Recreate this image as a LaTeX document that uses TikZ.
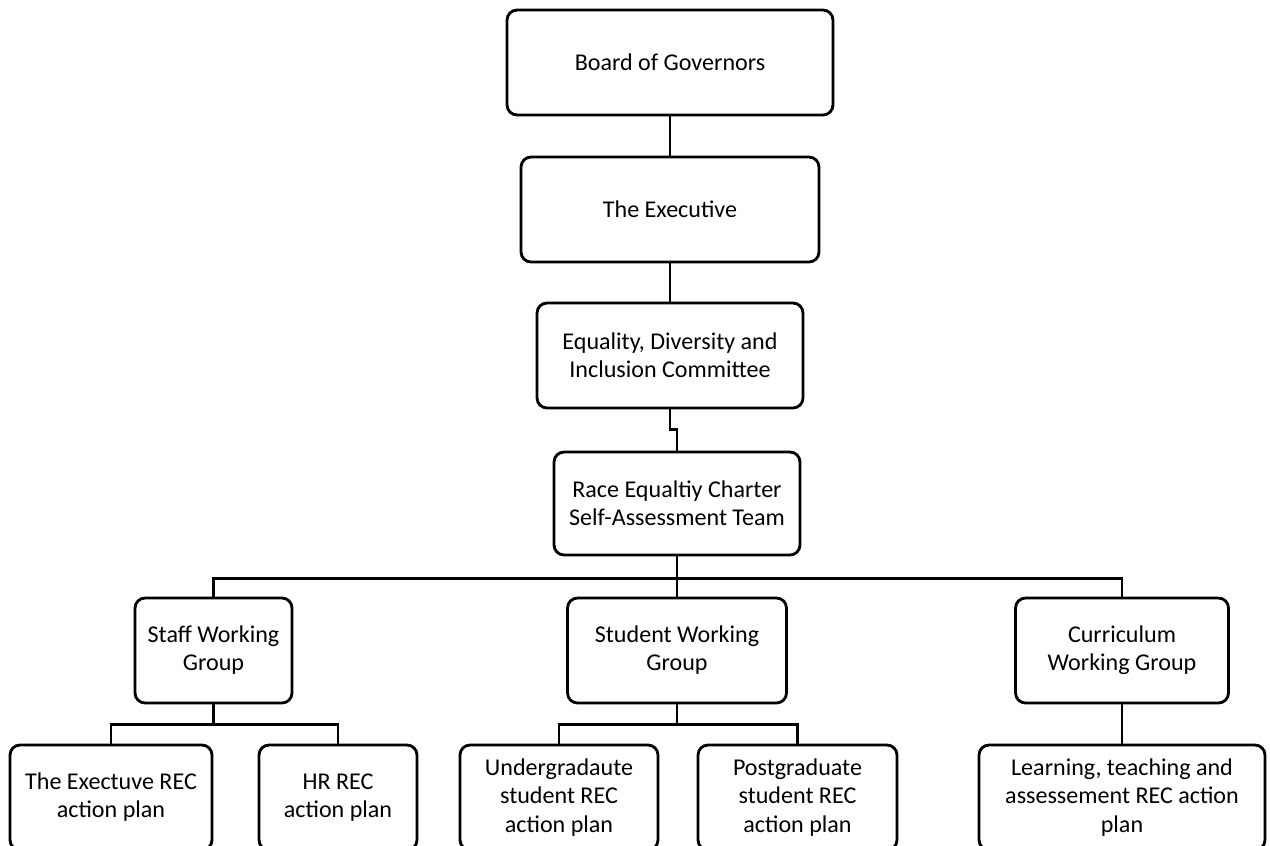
\documentclass[tikz,border=0pt]{standalone}
\usepackage{fontspec}
\setmainfont{Carlito}
\usepackage{tikz}
\usetikzlibrary{positioning,calc}

\begin{document}
\begin{tikzpicture}[
  x=0.02cm, y=-0.02cm,
  font=\fontsize{13.7pt}{16pt}\selectfont,
  box/.style={draw, line width=1.6pt, rounded corners=0.2cm, align=center,
    minimum height=2.1cm, inner sep=2pt},
  link/.style={line width=1.6pt}
]

  \useasboundingbox (0,0) rectangle (1270,845);

  % Top chain
  \node (board) at (670,62.5) [box, minimum width=6.52cm] {Board of Governors};
  \node (exec) at (670,209.5) [box, minimum width=5.96cm] {The Executive};
  \node (edi) at (670,355.5) [box, minimum width=5.32cm] {Equality, Diversity and\\Inclusion Committee};
  \node (rec) at (677,503.5) [box, minimum width=4.92cm, minimum height=2.06cm] {Race Equaltiy Charter\\Self-Assessment Team};

  % Working groups
  \node (staff) at (213.5,650.5) [box, minimum width=3.14cm] {Staff Working\\Group};
  \node (student) at (677,650.5) [box, minimum width=4.38cm] {Student Working\\Group};
  \node (curric) at (1122,650.5) [box, minimum width=4.26cm] {Curriculum\\Working Group};

  % Action plans
  \node (execplan) at (111,797.5) [box, minimum width=4.04cm] {The Exectuve REC\\action plan};
  \node (hrplan) at (338,797.5) [box, minimum width=3.16cm] {HR REC\\action plan};
  \node (ugplan) at (559,797.5) [box, minimum width=3.96cm] {Undergradaute\\student REC\\action plan};
  \node (pgplan) at (797.5,797.5) [box, minimum width=3.98cm] {Postgraduate\\student REC\\action plan};
  \node (ltaplan) at (1122,797.5) [box, minimum width=5.72cm] {Learning, teaching and\\assessement REC action\\plan};

  % Connectors
  \draw [link] (board.south) -- (exec.north);
  \draw [link] (exec.south) -- (edi.north);
  \draw [link] (edi.south) -- ++(0,20) -| (rec.north);

  \draw [link] (rec.south) -- ++(0,22) coordinate (bus);
  \draw [link] (staff.north) |- (bus) -| (curric.north);
  \draw [link] (bus) -- (student.north);

  \draw [link] (staff.south) -- ++(0,20) coordinate (staffbus);
  \draw [link] (execplan.north) |- (staffbus) -| (hrplan.north);

  \draw [link] (student.south) -- ++(0,20) coordinate (studentbus);
  \draw [link] (ugplan.north) |- (studentbus) -| (pgplan.north);

  \draw [link] (curric.south) -- (ltaplan.north);

\end{tikzpicture}
\end{document}
